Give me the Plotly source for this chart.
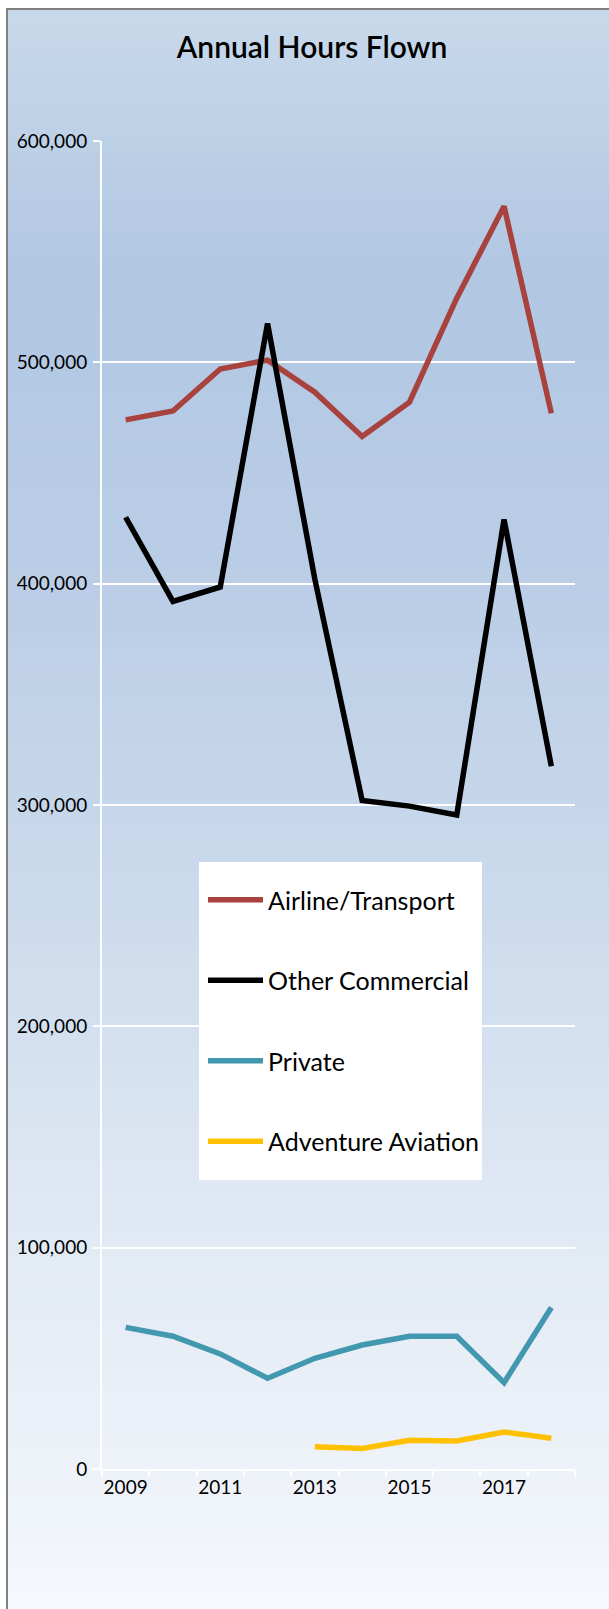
import plotly.graph_objects as go

# ---------------- data ----------------
years = ["2009", "2010", "2011", "2012", "2013", "2014", "2015", "2016", "2017", "2018"]
tick_labels = ["2009", "", "2011", "", "2013", "", "2015", "", "2017", ""]
airline = [474000, 478000, 497000, 501000, 486500, 466500, 482000, 529000, 570500, 477000]
other_commercial = [430000, 392000, 398500, 517500, 402000, 302000, 299500, 295500, 429000, 317500]
private = [64000, 60000, 52000, 41000, 50000, 56000, 60000, 60000, 39000, 73000]
adventure = [None, None, None, None, 10000, 9300, 13000, 12700, 16700, 13900]
y_ticks = [0, 100000, 200000, 300000, 400000, 500000, 600000]

series_names = ["Airline/Transport", "Other Commercial", "Private", "Adventure Aviation"]
series_values = [airline, other_commercial, private, adventure]
series_colors = ["#A8423F", "#000000", "#4198AF", "#FFC000"]

# ---------------- geometry helpers ----------------
W, H = 609, 1609
L, R, T, B = 102, 34, 141, 140
PW, PH = W - L - R, H - T - B


def px_x(x):
    return (x - L) / PW


def px_y(y):
    return (H - B - y) / PH


def lerp_color(stops, y):
    for (y0, c0), (y1, c1) in zip(stops, stops[1:]):
        if y0 <= y <= y1:
            t = (y - y0) / (y1 - y0) if y1 > y0 else 0
            return tuple(round(a + (b - a) * t) for a, b in zip(c0, c1))
    return stops[-1][1] if y > stops[-1][0] else stops[0][1]


grad_stops = [
    (10, (200, 216, 235)),
    (280, (177, 199, 226)),
    (560, (186, 205, 230)),
    (900, (203, 218, 236)),
    (1250, (226, 234, 244)),
    (1609, (245, 248, 252)),
]

shapes = []
band = 16
y = 9
while y < H:
    y2 = min(y + band, H)
    c = lerp_color(grad_stops, (y + y2) / 2)
    shapes.append(dict(type="rect", xref="paper", yref="paper", layer="below",
                       x0=px_x(7), x1=px_x(W + 5), y0=px_y(y2 + 0.5), y1=px_y(y),
                       fillcolor="rgb(%d,%d,%d)" % c, line=dict(width=0)))
    y = y2

# frame border (left and top)
shapes.append(dict(type="line", xref="paper", yref="paper", layer="below",
                   x0=px_x(7), x1=px_x(7), y0=px_y(H + 5), y1=px_y(9),
                   line=dict(color="#808080", width=2)))
shapes.append(dict(type="line", xref="paper", yref="paper", layer="below",
                   x0=px_x(6), x1=px_x(W + 5), y0=px_y(9), y1=px_y(9),
                   line=dict(color="#808080", width=2)))
# legend box
shapes.append(dict(type="rect", xref="paper", yref="paper", layer="above",
                   x0=px_x(199), x1=px_x(482), y0=px_y(1180), y1=px_y(862),
                   fillcolor="white", line=dict(width=0)))

fig = go.Figure()
for name, vals, col in zip(series_names, series_values, series_colors):
    fig.add_trace(go.Scatter(x=years, y=vals, name=name, mode="lines",
                             line=dict(color=col, width=5.5),
                             legendgroup=name, connectgaps=False))

font_family = "Lato, 'Open Sans', sans-serif"

fig.update_layout(
    width=W, height=H, autosize=False,
    margin=dict(l=L, r=R, t=T, b=B, pad=0),
    paper_bgcolor="white",
    plot_bgcolor="rgba(0,0,0,0)",
    font=dict(family=font_family, color="black"),
    title=dict(text="Annual Hours Flown", xref="container", yref="container",
               x=312 / W, y=1 - 47 / H, xanchor="center", yanchor="middle",
               font=dict(family=font_family, size=30, color="black", weight=600)),
    xaxis=dict(type="category", tickmode="array", tickvals=years, ticktext=tick_labels,
               tickson="boundaries", ticks="outside", ticklen=6, tickwidth=2,
               tickcolor="white", showline=True, linecolor="white", linewidth=2,
               showgrid=False, zeroline=False, range=[-0.5, 9.5], tickangle=0,
               tickfont=dict(family=font_family, size=19, color="black")),
    yaxis=dict(range=[0, 600000], tickmode="array", tickvals=y_ticks,
               tickformat=",d", ticks="outside", ticklen=7, tickwidth=2,
               tickcolor="white", showline=True, linecolor="white", linewidth=2,
               showgrid=True, gridcolor="white", gridwidth=2, zeroline=False,
               ticklabelstandoff=2,
               tickfont=dict(family=font_family, size=19, color="black")),
    showlegend=True,
    legend=dict(x=px_x(203), y=px_y(877), xanchor="left", yanchor="top",
                bgcolor="rgba(0,0,0,0)", borderwidth=0,
                traceorder="grouped", tracegroupgap=45, itemwidth=55,
                font=dict(family=font_family, size=25, color="black")),
    shapes=shapes,
)

fig.write_html("out.html",
               config={"displayModeBar": False},
               post_script="document.body.style.margin='0';"
                           "document.body.style.overflow='hidden';")
